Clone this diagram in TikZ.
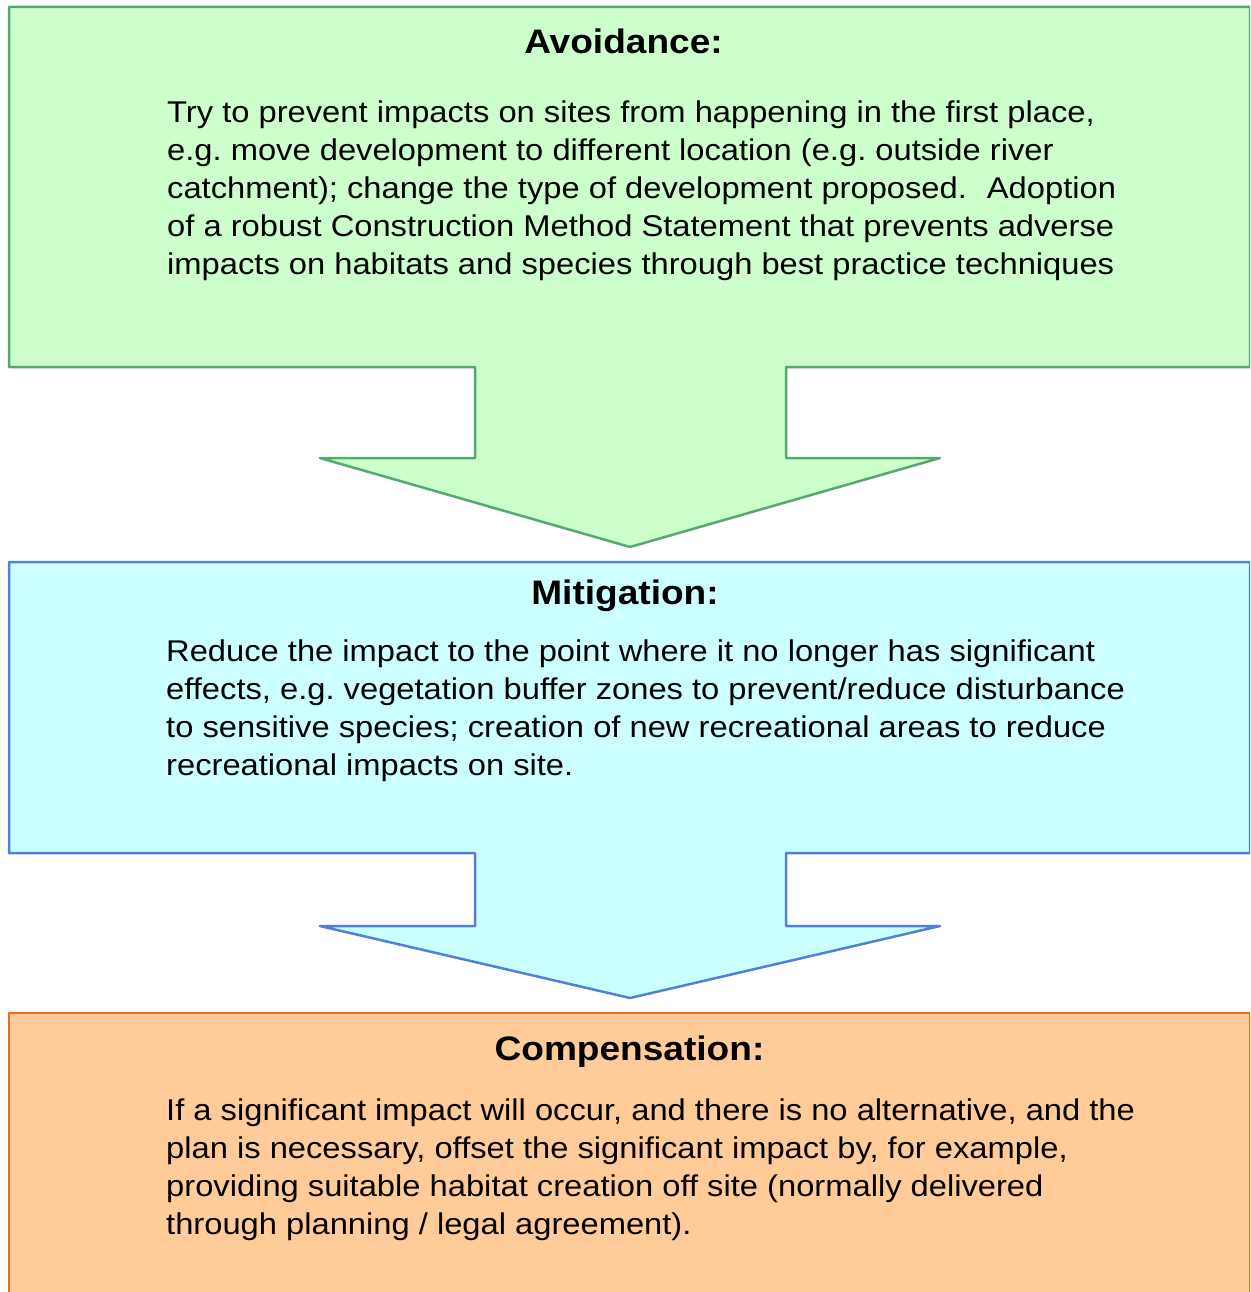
\documentclass[tikz,border=0pt]{standalone}
\usepackage{fontspec}
\setmainfont{Liberation Sans}[FakeStretch=1.09]
\definecolor{gfill}{HTML}{CCFFCC}
\definecolor{gline}{HTML}{55A870}
\definecolor{bfill}{HTML}{CCFFFF}
\definecolor{bline}{HTML}{5080DC}
\definecolor{ofill}{HTML}{FFCC99}
\definecolor{oline}{HTML}{F26B10}
\tikzset{
  shapebox/.style={line width=2.5pt, line join=round},
  greenbox/.style={shapebox, draw=gline, fill=gfill},
  bluebox/.style={shapebox, draw=bline, fill=bfill},
  orangebox/.style={shapebox, draw=oline, fill=ofill},
  titletext/.style={font=\fontsize{34}{40}\selectfont\bfseries, anchor=base, inner sep=0pt},
  bodytext/.style={font=\fontsize{30}{38}\selectfont, align=left, anchor=north west, inner sep=0pt}
}
\begin{document}
\begin{tikzpicture}[x=1pt, y=-1pt]
\useasboundingbox (0,0) rectangle (1250,1292);
\clip (0,0) rectangle (1250,1292);
\frenchspacing
% Avoidance
\draw[greenbox] (9,7) -- (1250,7) -- (1250,367) -- (786,367) -- (786,458) -- (940,458)
  -- (630,547) -- (320,458) -- (475,458) -- (475,367) -- (9,367) -- cycle;
% Mitigation
\draw[bluebox] (9,562) -- (1250,562) -- (1250,853) -- (786,853) -- (786,926) -- (940,926)
  -- (630,998) -- (320,926) -- (475,926) -- (475,853) -- (9,853) -- cycle;
% Compensation
\draw[orangebox] (9,1013) -- (1250,1013) -- (1250,1310) -- (9,1310) -- cycle;

\node[titletext] (avt) at (623.5,54) {Avoidance:};
\node[bodytext] (avb) at (167,98) {\rule{0pt}{24pt}Try to prevent impacts on sites from happening in the first place,\\
e.g. move development to different location (e.g. outside river\\
catchment); change the type of development proposed.\hspace{20pt}Adoption\\
of a robust Construction Method Statement that prevents adverse\\
impacts on habitats and species through best practice techniques};

\node[titletext] (mit) at (625,604) {Mitigation:};
\node[bodytext] (mib) at (166,637) {\rule{0pt}{24pt}Reduce the impact to the point where it no longer has significant\\
effects, e.g. vegetation buffer zones to prevent/reduce disturbance\\
to sensitive species; creation of new recreational areas to reduce\\
recreational impacts on site.};

\node[titletext] (cot) at (629.5,1060) {Compensation:};
\node[bodytext] (cob) at (166,1096) {\rule{0pt}{24pt}If a significant impact will occur, and there is no alternative, and the\\
plan is necessary, offset the significant impact by, for example,\\
providing suitable habitat creation off site (normally delivered\\
through planning / legal agreement).};
\end{tikzpicture}
\end{document}
